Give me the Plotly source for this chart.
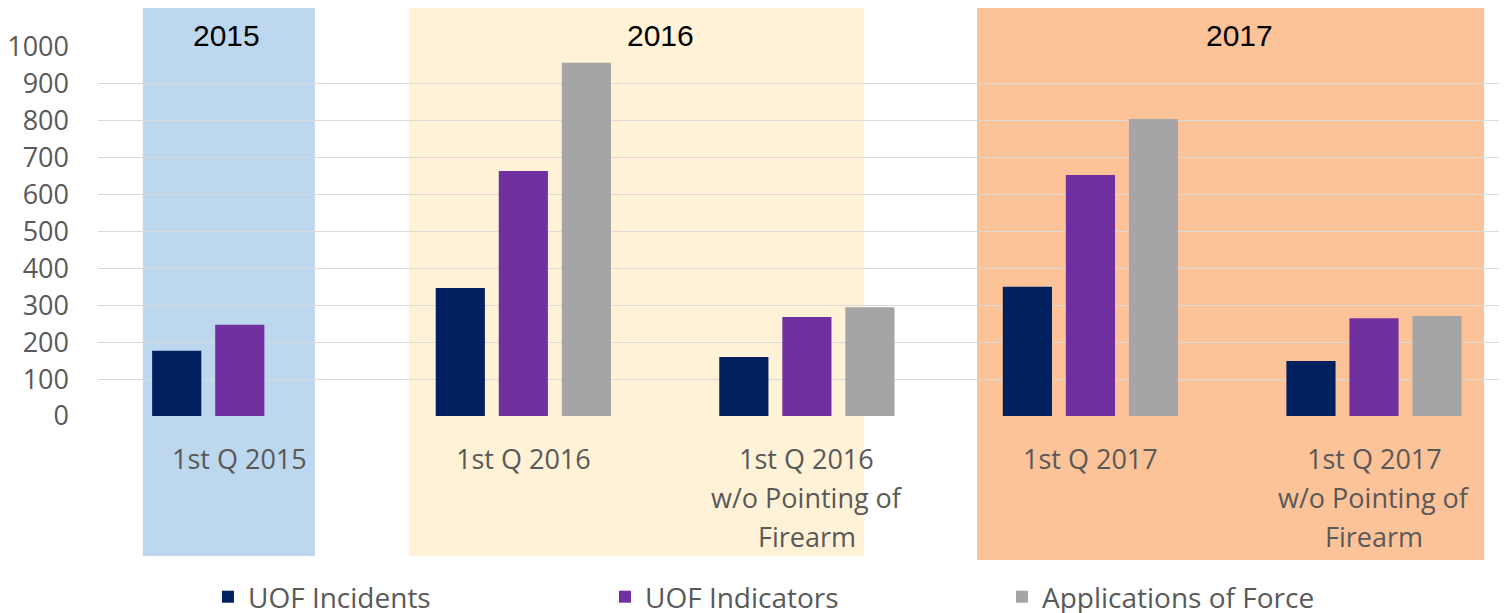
import plotly.graph_objects as go

categories = ["1st Q 2015", "1st Q 2016", "1st Q 2016 w/o Pointing of Firearm",
              "1st Q 2017", "1st Q 2017 w/o Pointing of Firearm"]
tick_lines = [["1st Q 2015"], ["1st Q 2016"], ["1st Q 2016", "w/o Pointing of", "Firearm"],
              ["1st Q 2017"], ["1st Q 2017", "w/o Pointing of", "Firearm"]]
series_names = ["UOF Incidents", "UOF Indicators", "Applications of Force"]
uof_incidents = [177, 347, 160, 350, 149]
uof_indicators = [247, 664, 268, 653, 265]
applications_of_force = [None, 957, 295, 805, 271]
years = ["2015", "2016", "2017"]
year_spans = [(-0.342, 0.265), (0.596, 2.201), (2.600, 4.388)]
year_label_x = [-0.046, 1.485, 3.524]
y_ticks = [0, 100, 200, 300, 400, 500, 600, 700, 800, 900, 1000]

colors = ["#002060", "#7030A0", "#A5A5A5"]
band_colors = ["#BDD7EE", "#FFF2D6", "#FCC399"]

fig = go.Figure()
for name, vals, c in zip(series_names, [uof_incidents, uof_indicators, applications_of_force], colors):
    fig.add_trace(go.Bar(x=categories, y=vals, name=name, marker=dict(color=c, line=dict(width=0))))

OFF = 8  # page body margin
W, H = 1507 - OFF, 613 - OFF
top, bottom = 47, 416  # page pixel rows of 1000 and 0
plot_h = bottom - top
def py(pix):
    return (bottom - pix) / plot_h

shapes = []
for (x0, x1), col, yb in zip(year_spans, band_colors, [556, 556, 560]):
    shapes.append(dict(type="rect", xref="x", yref="paper", x0=x0, x1=x1, y0=py(yb), y1=py(5),
                       fillcolor=col, line=dict(width=0), layer="below"))

annotations = []
for yr, xv in zip(years, year_label_x):
    annotations.append(dict(x=xv, y=py(36), xref="x", yref="paper", text=yr, showarrow=False,
                            font=dict(family="Liberation Sans Narrow, Arial Narrow, sans-serif", size=30, color="#000000"),
                            xanchor="center", yanchor="middle"))
line_y = [458, 497, 536]
for i, lines in enumerate(tick_lines):
    for j, t in enumerate(lines):
        annotations.append(dict(x=i, y=py(line_y[j]), xref="x", yref="paper", text=t, showarrow=False,
                                font=dict(family="Open Sans, sans-serif", size=27, color="#595959"),
                                xanchor="center", yanchor="middle"))

fig.update_layout(
    width=W, height=H,
    margin=dict(l=98 - OFF, r=0, t=top - OFF, b=H - (bottom - OFF), pad=0),
    paper_bgcolor="white", plot_bgcolor="rgba(0,0,0,0)",
    barmode="group", bargap=0.333, bargroupgap=0.22,
    shapes=shapes, annotations=annotations,
    showlegend=True,
    legend=dict(orientation="h", xref="container", yref="container", x=0.1334, y=1 - (597 - OFF) / H,
                xanchor="left", yanchor="middle", entrywidth=352, entrywidthmode="pixels",
                font=dict(family="Open Sans, sans-serif", size=28, color="#595959"),
                bgcolor="rgba(0,0,0,0)", traceorder="normal"),
    font=dict(family="Open Sans, sans-serif", color="#595959"),
)
fig.update_xaxes(range=[-0.5, 4.469], showticklabels=False, showgrid=False, zeroline=False,
                 showline=False, ticks="")
fig.update_yaxes(range=[0, 1000], tickvals=y_ticks, showgrid=True, gridcolor="#D9D9D9", gridwidth=1,
                 zeroline=False, showline=False, ticks="", ticklabelstandoff=28,
                 tickfont=dict(family="Open Sans, sans-serif", size=27, color="#595959"))

fig.write_html("out.html")
